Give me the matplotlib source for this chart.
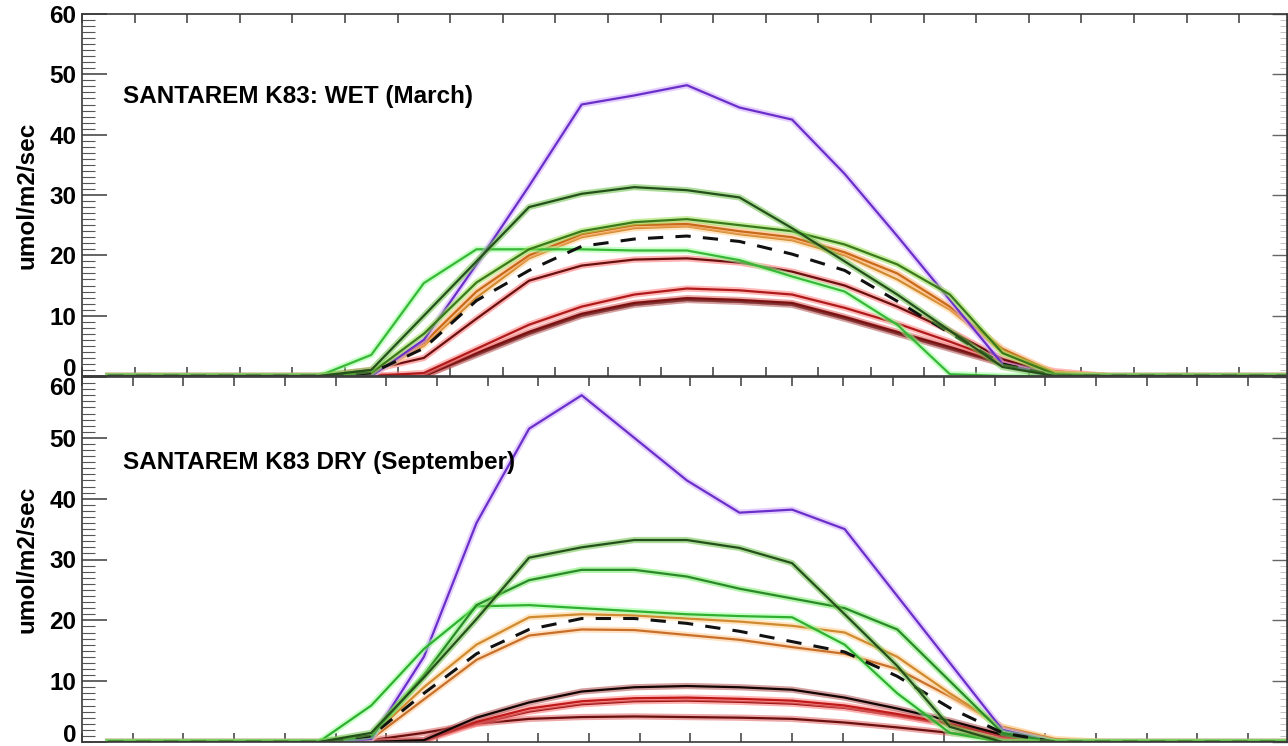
import matplotlib
matplotlib.use("Agg")
import matplotlib.pyplot as plt
import matplotlib.patheffects as pe
import numpy as np

plt.rcParams['font.family'] = ['Liberation Sans', 'DejaVu Sans']
plt.rcParams['font.weight'] = 'bold'

# hourly values, hour 0..23 (plotted at the half hour)
hours = np.arange(24) + 0.5

# ---- WET (March) ----
purple_wet = [0, 0, 0, 0, 0, 0, 6, 18.5, 31.5, 45, 46.5, 48.2, 44.5, 42.5, 33.5, 23.2, 12.6, 2, 0, 0, 0, 0, 0, 0]
dkgreen_wet = [0, 0, 0, 0, 0, 1, 10, 19, 28, 30.2, 31.3, 30.8, 29.6, 24.5, 19, 13.5, 7.5, 1.5, 0, 0, 0, 0, 0, 0]
green_wet = [0, 0, 0, 0, 0, 0.5, 7, 15.5, 21, 24, 25.5, 26, 25, 24, 21.8, 18.5, 13.5, 3.8, 0.3, 0, 0, 0, 0, 0]
orange_wet = [0, 0, 0, 0, 0, 0.3, 5.5, 14, 20, 23.5, 25, 25.2, 24, 23, 20.5, 17, 11.5, 4.5, 0.5, 0, 0, 0, 0, 0]
gold_wet = [0, 0, 0, 0, 0, 0.2, 5, 13, 19.5, 23, 24.5, 24.8, 23.5, 22.5, 20, 16, 11, 4, 0.4, 0, 0, 0, 0, 0]
mean_wet = [0, 0, 0, 0, 0, 0.5, 4.6, 12.5, 17.5, 21.5, 22.7, 23.2, 22.3, 20.2, 17.5, 12.4, 7.1, 2, 0, 0, 0, 0, 0, 0]
ltgreen_wet = [0, 0, 0, 0, 0, 3.5, 15.4, 21, 21, 21, 20.8, 20.8, 19.2, 16.5, 14, 8.5, 0.3, 0, 0, 0, 0, 0, 0, 0]
dkred_wet = [0, 0, 0, 0, 0, 1, 3, 9.5, 15.8, 18.3, 19.3, 19.5, 18.8, 17.3, 15, 11.5, 7.5, 2.8, 0.2, 0, 0, 0, 0, 0]
red_wet = [0, 0, 0, 0, 0, 0, 0.5, 4.5, 8.5, 11.5, 13.5, 14.5, 14.2, 13.5, 11.3, 8.7, 5.7, 2.5, 0.8, 0, 0, 0, 0, 0]
maroon_wet = [0, 0, 0, 0, 0, 0, 0, 3.8, 7.3, 10.3, 12.1, 12.9, 12.6, 12.1, 9.8, 7.3, 4.8, 2.2, 0.4, 0, 0, 0, 0, 0]
black_wet = [0, 0, 0, 0, 0, 0, 0, 3.5, 7, 10, 11.8, 12.6, 12.3, 11.8, 9.5, 7, 4.5, 2, 0.3, 0, 0, 0, 0, 0]

# ---- DRY (September) ----
purple_dry = [0, 0, 0, 0, 0, 0.5, 14, 36, 51.5, 57, 50, 43, 37.7, 38.2, 35, 24, 13, 2, 0, 0, 0, 0, 0, 0]
dkgreen_dry = [0, 0, 0, 0, 0, 1.5, 10.6, 20.2, 30.3, 32, 33.2, 33.2, 31.9, 29.4, 21, 12.5, 2.5, 0, 0, 0, 0, 0, 0, 0]
green_dry = [0, 0, 0, 0, 0, 1, 11, 22.5, 26.6, 28.3, 28.3, 27.2, 25.2, 23.6, 22, 18.5, 10, 1.5, 0, 0, 0, 0, 0, 0]
ltgreen_dry = [0, 0, 0, 0, 0, 6, 15.3, 22.3, 22.5, 22, 21.5, 21, 20.7, 20.5, 16, 8, 1.5, 0, 0, 0, 0, 0, 0, 0]
mean_dry = [0, 0, 0, 0, 0, 1, 8, 14.5, 18.5, 20.3, 20.3, 19.5, 18.2, 16.5, 14.8, 10.8, 5.6, 1.5, 0, 0, 0, 0, 0, 0]
orange_dry = [0, 0, 0, 0, 0, 1, 9, 16, 20.5, 21, 20.8, 20.3, 19.8, 19.1, 18, 14, 8, 2.5, 0.5, 0, 0, 0, 0, 0]
gold_dry = [0, 0, 0, 0, 0, 0.5, 7, 13.5, 17.5, 18.5, 18.4, 17.6, 16.8, 15.6, 14.5, 12, 7.5, 2.5, 0.3, 0, 0, 0, 0, 0]
black_dry = [0, 0, 0, 0, 0, 0, 0.3, 4, 6.5, 8.3, 9, 9.2, 9, 8.6, 7.3, 5.5, 3.5, 1.2, 0, 0, 0, 0, 0, 0]
red_dry = [0, 0, 0, 0, 0, 0, 0.3, 3.3, 5.5, 6.7, 7.2, 7.3, 7.1, 6.8, 6, 4.6, 3, 1, 0, 0, 0, 0, 0, 0]
red2_dry = [0, 0, 0, 0, 0, 0, 0.2, 3, 5, 6.2, 6.7, 6.8, 6.6, 6.3, 5.6, 4.3, 2.8, 1, 0, 0, 0, 0, 0, 0]
dkred_dry = [0, 0, 0, 0, 0, 0.3, 1.5, 3, 3.8, 4.1, 4.2, 4.1, 4, 3.8, 3.2, 2.4, 1.5, 0.6, 0, 0, 0, 0, 0, 0]

# (values, core colour, halo colour, linestyle)
wet_lines = [
    (black_wet, '#140404', '#b05050', '-'),
    (maroon_wet, '#7a1010', '#e06060', '-'),
    (red_wet, '#b01a1a', '#ff8080', '-'),
    (dkred_wet, '#6a1010', '#ff7070', '-'),
    (gold_wet, '#d08a30', '#ffd090', '-'),
    (orange_wet, '#c86a1a', '#ffb070', '-'),
    (ltgreen_wet, '#38b838', '#99ff99', '-'),
    (purple_wet, '#6a2fc8', '#d0a8ff', '-'),
    (green_wet, '#3a7a1a', '#99e055', '-'),
    (mean_wet, '#111111', None, '--'),
    (dkgreen_wet, '#24501a', '#6cc24a', '-'),
]
dry_lines = [
    (dkred_dry, '#6a1010', '#e06060', '-'),
    (red2_dry, '#9a1515', '#ff7070', '-'),
    (red_dry, '#c01a1a', '#ff8080', '-'),
    (black_dry, '#140404', '#b05050', '-'),
    (gold_dry, '#c8702a', '#ffc890', '-'),
    (orange_dry, '#d08a30', '#ffd090', '-'),
    (purple_dry, '#6a2fc8', '#d0a8ff', '-'),
    (ltgreen_dry, '#30b030', '#99ff99', '-'),
    (green_dry, '#2a8a2a', '#77ee66', '-'),
    (mean_dry, '#111111', None, '--'),
    (dkgreen_dry, '#24501a', '#6cc24a', '-'),
]

W, H = 1288, 746
fig = plt.figure(figsize=(W / 100, H / 100), dpi=100)
ax1 = fig.add_axes([82 / W, 1 - 376 / H, 1205 / W, 362 / H])
ax2 = fig.add_axes([82 / W, 1 - 742 / H, 1205 / W, 365 / H])

XMAX = 22.91
spine_col = '#3a3a3a'


def style(ax, xticks, title, title_y):
    ax.set_xlim(0, XMAX)
    ax.set_ylim(0, 60)
    ax.set_xticks(xticks)
    ax.set_xticklabels([])
    ax.set_yticks(np.arange(0, 61, 10))
    ax.set_yticks(np.arange(0, 61, 1), minor=True)
    ax.tick_params(axis='x', which='major', direction='in', top=True, bottom=True,
                   length=6.5, width=1.1, color=spine_col)
    ax.tick_params(axis='y', which='major', direction='in', left=True, right=False,
                   length=18, width=1.1, color=spine_col, labelsize=17.5, pad=4)
    ax.tick_params(axis='y', which='minor', direction='in', left=True, right=False,
                   length=9, width=0.8, color='#555555')
    sec = ax.secondary_yaxis('right')
    sec.set_yticks(np.arange(0, 61, 10))
    sec.set_yticks(np.arange(0, 61, 1), minor=True)
    sec.tick_params(which='major', direction='in', length=11, width=1.0, color='#666666', labelright=False)
    sec.tick_params(which='minor', direction='in', length=5, width=0.6, color='#bbbbbb')
    sec.spines['right'].set_color(spine_col)
    for s in ax.spines.values():
        s.set_color(spine_col)
        s.set_linewidth(1.2)
    ax.set_ylabel('umol/m2/sec', fontsize=17.5, fontweight='bold', labelpad=8)
    ax.text(0.78, title_y, title, fontsize=17.5, fontweight='bold', va='center', ha='left')


def draw(ax, lines):
    for vals, core, halo, ls in lines:
        effects = []
        if halo is not None:
            effects = [pe.Stroke(linewidth=4.5, foreground=halo, alpha=0.55), pe.Normal()]
        lw = 2.2 if ls == '--' else 1.6
        ax.plot(hours, vals, color=core, lw=lw, ls=ls, dashes=(5, 4) if ls == '--' else (None, None),
                path_effects=effects, solid_joinstyle='round', clip_on=True)


draw(ax1, wet_lines)
draw(ax2, dry_lines)
style(ax1, np.arange(0, 23, 1), 'SANTAREM K83: WET (March)', 46.3)
style(ax2, np.arange(0, 23, 0.964), 'SANTAREM K83 DRY (September)', 46.0)

# IDL-like label placement at the shared boundary
t1 = ax1.yaxis.get_major_ticks()
t1[0].label1.set_verticalalignment('baseline')
t2 = ax2.yaxis.get_major_ticks()
t2[-1].label1.set_verticalalignment('top')
t2[0].label1.set_verticalalignment('baseline')

fig.savefig('out.png', dpi=100)
